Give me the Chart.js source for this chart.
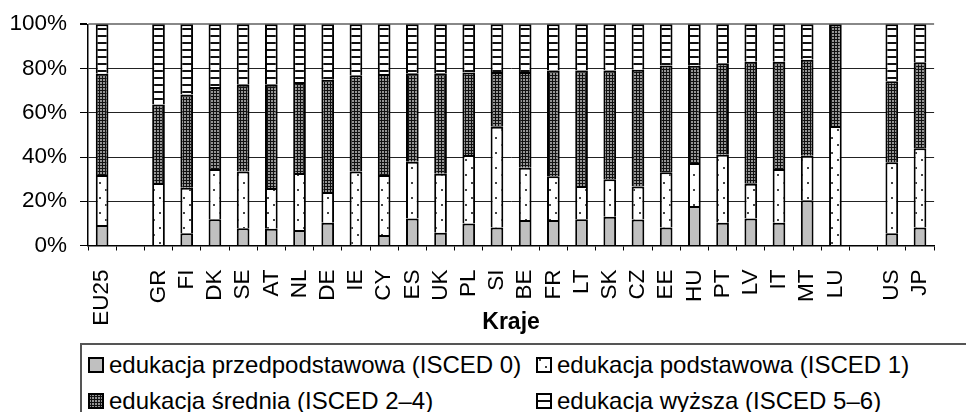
<!DOCTYPE html>
<html lang="pl">
<head>
<meta charset="utf-8">
<title>Edukacja wg krajów</title>
<script src="https://cdn.jsdelivr.net/npm/chart.js@4.4.1/dist/chart.umd.min.js"></script>
<style>
    html, body { margin: 0; padding: 0; background: #fff; }
    body { width: 966px; height: 412px; position: relative; overflow: hidden; font-family: 'Liberation Sans', Arial, sans-serif; }
    #chart { position: absolute; left: 0; top: 0; }
    #legend {
        position: absolute; left: 80px; top: 343px; width: 900px; height: 90px;
        border-top: 2px solid #555; border-left: 2px solid #555; box-sizing: border-box;
    }
    .item { position: absolute; display: flex; align-items: center; font-size: 24px; color: #000; white-space: nowrap; line-height: 28px; }
    .item canvas { margin-right: 5px; }
</style>
</head>
<body>
<canvas id="chart" width="966" height="342"></canvas>
<div id="legend"></div>
<script>
(function() {
    'use strict';

    // Categories (empty strings are the gaps between groups)
    const countries = ['EU25', '', 'GR', 'FI', 'DK', 'SE', 'AT', 'NL', 'DE', 'IE', 'CY', 'ES', 'UK', 'PL', 'SI',
        'BE', 'FR', 'LT', 'SK', 'CZ', 'EE', 'HU', 'PT', 'LV', 'IT', 'MT', 'LU', '', 'US', 'JP'];

    // Shares in %
    const isced0 = [9.3, null, 0, 5.5, 11.9, 7.8, 7.6, 7.0, 10.3, 0, 4.8, 12.2, 5.8, 10.0, 8.1,
        11.5, 11.5, 11.9, 13.0, 11.8, 8.1, 17.8, 10.3, 12.2, 10.3, 20.4, 0, null, 5.5, 8.1];
    const isced1 = [22.6, null, 28.2, 20.6, 22.7, 25.6, 18.4, 25.8, 13.9, 33.4, 27.1, 25.7, 26.6, 30.9, 45.6,
        23.6, 19.8, 15.0, 16.9, 14.9, 25.0, 19.5, 30.7, 15.7, 24.3, 20.2, 54.0, null, 32.1, 35.8];
    const isced24 = [45.7, null, 35.5, 42.1, 37.0, 39.3, 46.7, 41.1, 50.7, 43.5, 45.6, 40.0, 45.5, 37.3, 24.7,
        43.3, 47.8, 52.2, 49.2, 52.7, 48.2, 43.9, 41.4, 55.2, 48.5, 43.3, 46.0, null, 36.6, 38.9];
    const isced56 = [22.4, null, 36.3, 31.8, 28.4, 27.3, 27.3, 26.1, 25.1, 23.1, 22.5, 22.1, 22.1, 21.8, 21.6,
        21.6, 20.9, 20.9, 20.9, 20.6, 18.7, 18.8, 17.6, 16.9, 16.9, 16.1, 0, null, 25.8, 17.2];

    const yTicks = [0, 20, 40, 60, 80, 100];

    const seriesNames = [
        'edukacja przedpodstawowa (ISCED 0)',
        'edukacja podstawowa (ISCED 1)',
        'edukacja średnia (ISCED 2–4)',
        'edukacja wyższa (ISCED 5–6)'
    ];

    const FONT = "'Liberation Sans', Arial, sans-serif";

    /**
     * Build the fill patterns used by the bars
     */
    function makePattern(kind) {
        const c = document.createElement('canvas');
        const g = c.getContext('2d');
        if (kind === 'grey') {
            c.width = 4; c.height = 4;
            g.fillStyle = '#c0c0c0';
            g.fillRect(0, 0, 4, 4);
        } else if (kind === 'dots') {
            c.width = 12; c.height = 15;
            g.fillStyle = '#fff';
            g.fillRect(0, 0, 12, 15);
            g.fillStyle = '#444';
            g.fillRect(3, 2, 2, 2);
            g.fillRect(9, 9, 2, 2);
        } else if (kind === 'dense') {
            c.width = 3; c.height = 3;
            g.fillStyle = '#111';
            g.fillRect(0, 0, 3, 3);
            g.fillStyle = '#959595';
            g.fillRect(1, 1, 2, 2);
        } else {
            c.width = 4; c.height = 7;
            g.fillStyle = '#fff';
            g.fillRect(0, 0, 4, 7);
            g.fillStyle = '#111';
            g.fillRect(0, 0, 4, 2);
        }
        return g.createPattern(c, 'repeat');
    }

    const ctx = document.getElementById('chart').getContext('2d');
    const fills = ['grey', 'dots', 'dense', 'lines'].map(makePattern);
    const values = [isced0, isced1, isced24, isced56];

    const datasets = values.map((data, i) => ({
        label: seriesNames[i],
        data: data,
        backgroundColor: fills[i],
        borderColor: '#000',
        borderWidth: 2,
        borderSkipped: 'start',
        barPercentage: 0.45,
        categoryPercentage: 1.0
    }));

    new Chart(ctx, {
        type: 'bar',
        data: { labels: countries, datasets: datasets },
        options: {
            responsive: false,
            devicePixelRatio: 1,
            animation: false,
            layout: { padding: { top: 22, right: 0, left: 0, bottom: 0 } },
            plugins: {
                legend: { display: false },
                tooltip: { enabled: false }
            },
            scales: {
                x: {
                    stacked: true,
                    grid: {
                        offset: true,
                        drawOnChartArea: false,
                        drawTicks: true,
                        tickLength: 5,
                        color: '#000'
                    },
                    border: { color: '#000', width: 1.5 },
                    ticks: {
                        autoSkip: false,
                        minRotation: 90,
                        maxRotation: 90,
                        padding: 19,
                        color: '#000',
                        font: { family: FONT, size: 22.5 }
                    },
                    title: {
                        display: true,
                        text: 'Kraje',
                        color: '#000',
                        padding: { top: 0, bottom: 6 },
                        font: { family: FONT, size: 23, weight: 'bold' }
                    },
                    afterFit: function(scale) { scale.height = 96.5; }
                },
                y: {
                    stacked: true,
                    min: 0,
                    max: 100,
                    afterBuildTicks: function(scale) {
                        scale.ticks = yTicks.map(v => ({ value: v }));
                    },
                    grid: {
                        color: c => (c.tick && c.tick.value === 100) ? '#888' : '#222',
                        lineWidth: c => (c.tick && c.tick.value === 100) ? 2 : 1,
                        tickLength: 8,
                        tickColor: '#000'
                    },
                    border: { color: '#000', width: 1.5 },
                    ticks: {
                        padding: 13,
                        color: '#000',
                        font: { family: FONT, size: 22.5, lineHeight: 1.0 },
                        callback: v => v + '%'
                    },
                    afterFit: function(scale) { scale.width = 88; }
                }
            }
        }
    });

    // Legend in a framed box, two columns
    const legend = document.getElementById('legend');
    const spots = [[6, 6], [454, 6], [6, 42], [454, 42]];
    seriesNames.forEach((name, i) => {
        const item = document.createElement('div');
        item.className = 'item';
        item.style.left = spots[i][0] + 'px';
        item.style.top = spots[i][1] + 'px';
        const sw = document.createElement('canvas');
        sw.width = 16; sw.height = 16;
        const g = sw.getContext('2d');
        g.fillStyle = makePattern(['grey', 'dots', 'dense', 'lines'][i]);
        g.fillRect(0, 0, 16, 16);
        g.strokeStyle = '#000';
        g.lineWidth = 2;
        g.strokeRect(1, 1, 14, 14);
        item.appendChild(sw);
        const span = document.createElement('span');
        span.textContent = name;
        item.appendChild(span);
        legend.appendChild(item);
    });
})();
</script>
</body>
</html>
